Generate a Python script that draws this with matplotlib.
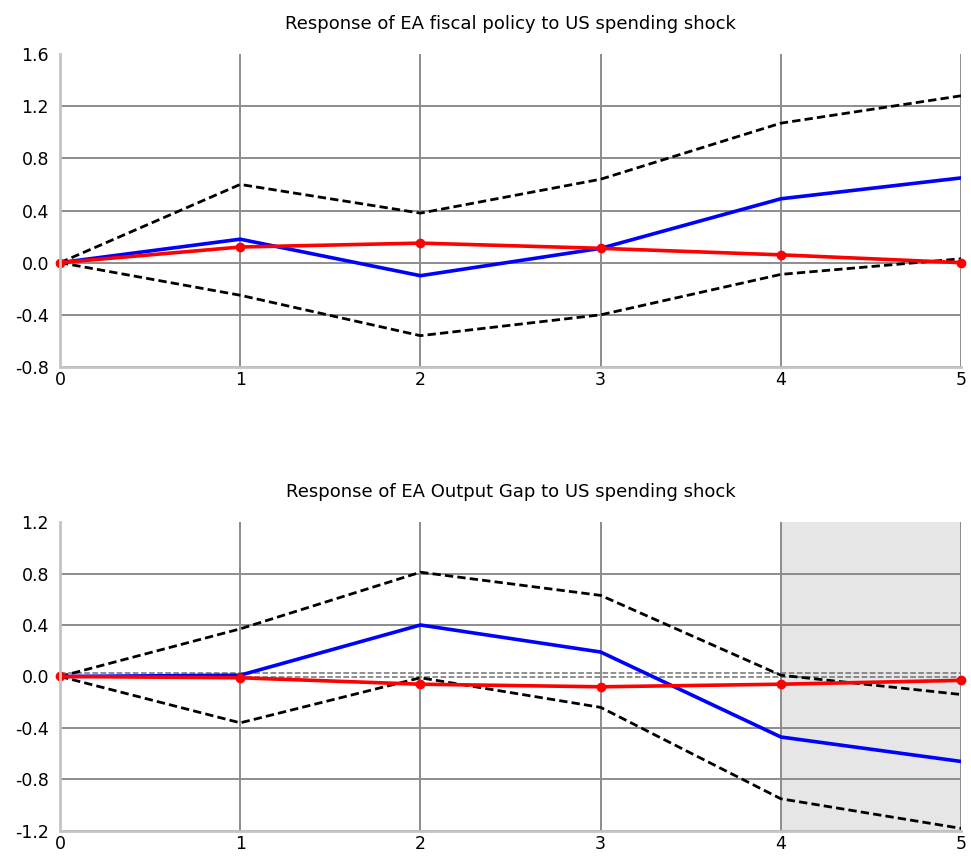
import numpy as np
import matplotlib
matplotlib.use("Agg")
from matplotlib import pyplot as plt

horizon = [0, 1, 2, 3, 4, 5]

# Response of EA fiscal policy
fiscal_blue = [0.0, 0.18, -0.10, 0.11, 0.49, 0.65]
fiscal_red = [0.0, 0.12, 0.15, 0.11, 0.06, 0.0]
fiscal_upper = [0.0, 0.60, 0.38, 0.64, 1.07, 1.28]
fiscal_lower = [0.0, -0.25, -0.56, -0.40, -0.09, 0.03]

# Response of EA output gap
gap_blue = [0.0, 0.01, 0.40, 0.19, -0.47, -0.66]
gap_red = [0.0, -0.01, -0.06, -0.08, -0.06, -0.03]
gap_upper = [0.0, 0.37, 0.81, 0.63, 0.01, -0.14]
gap_lower = [0.0, -0.36, -0.01, -0.24, -0.95, -1.18]

fiscal_ticks = [-0.8, -0.4, 0.0, 0.4, 0.8, 1.2, 1.6]
gap_ticks = [-1.2, -0.8, -0.4, 0.0, 0.4, 0.8, 1.2]

titles = ["Response of EA fiscal policy to US spending shock",
          "Response of EA Output Gap to US spending shock"]


def draw_panel(ax, blue, red, upper, lower, yticks, title):
    ax.set_xlim(0, 5)
    ax.set_ylim(yticks[0], yticks[-1])
    ax.set_xticks(horizon)
    ax.set_yticks(yticks)
    ax.set_yticklabels(['%.1f' % t for t in yticks])
    ax.grid(True, color='#8c8c8c', linewidth=1.4)
    ax.set_axisbelow(True)
    # no grid line along the top edge
    ax.yaxis.get_gridlines()[-1].set_visible(False)
    for s in ['top', 'right']:
        ax.spines[s].set_visible(False)
    for s in ['left', 'bottom']:
        ax.spines[s].set_color('#c4c4c4')
        ax.spines[s].set_linewidth(2)
    ax.tick_params(length=0, labelsize=12.5)
    ax.tick_params(axis='y', pad=8)
    ax.tick_params(axis='x', pad=3)
    ax.plot(horizon, upper, color='black', linestyle=(0, (3, 1.5)), linewidth=2)
    ax.plot(horizon, lower, color='black', linestyle=(0, (3, 1.5)), linewidth=2)
    ax.plot(horizon, blue, color='#0000ff', linewidth=2.6)
    ax.plot(horizon, red, color='#ff0000', linewidth=2.6, marker='o',
            markersize=6, clip_on=False)
    ax.set_title(title, fontsize=13, pad=18)


fig = plt.figure(figsize=(9.71, 8.58), dpi=100)
ax1 = fig.add_axes([0.0618, 0.5723, 0.928, 0.3647])
ax2 = fig.add_axes([0.0618, 0.0315, 0.928, 0.3601])

draw_panel(ax1, fiscal_blue, fiscal_red, fiscal_upper, fiscal_lower,
           fiscal_ticks, titles[0])

ax2.axvspan(4, 5, color='#e6e6e6', zorder=0)
draw_panel(ax2, gap_blue, gap_red, gap_upper, gap_lower,
           gap_ticks, titles[1])
# zero line in the lower panel is a pair of thin dashed lines
ax2.yaxis.get_gridlines()[3].set_visible(False)
ax2.axhline(-0.005, color='#707070', linestyle='--', linewidth=1.1, zorder=1)
ax2.axhline(0.025, color='#707070', linestyle='--', linewidth=1.1, zorder=1)

plt.savefig("out.png", dpi=100)
plt.close()
